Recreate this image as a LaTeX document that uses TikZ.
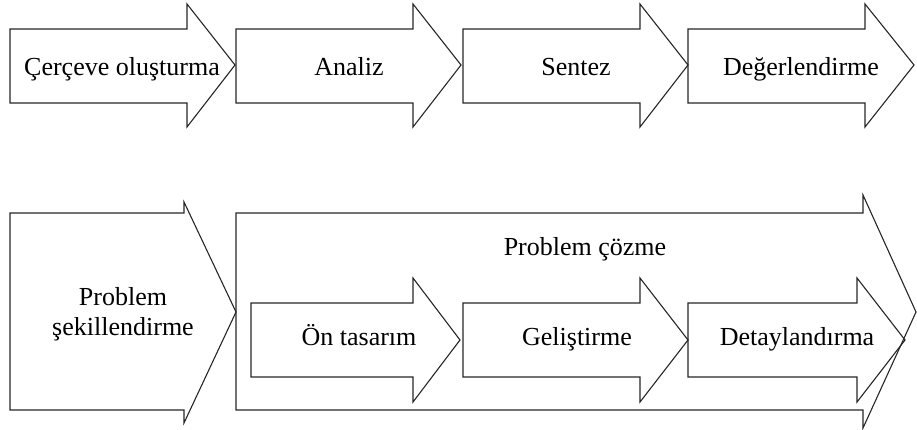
\documentclass[tikz,border=0pt]{standalone}
\usepackage{fontspec}
\setmainfont{Liberation Serif}
\begin{document}
\begin{tikzpicture}[x=1pt,y=-1pt,
  blk/.style={draw=black!85,line width=1.1pt,line join=miter},
  lbl/.style={inner sep=0pt,anchor=base,align=center,font=\fontsize{26}{30}\selectfont,text=black}]
\useasboundingbox (0,0) rectangle (917,429);
% top row
\draw[blk] (10,29)--(187,29)--(187,4)--(235,65)--(187,127)--(187,103)--(10,103)--cycle;
\draw[blk] (236,29)--(413,29)--(413,4)--(461,65)--(413,127)--(413,103)--(236,103)--cycle;
\draw[blk] (463,29)--(640,29)--(640,4)--(688,65)--(640,127)--(640,103)--(463,103)--cycle;
\draw[blk] (688,29)--(865,29)--(865,4)--(914,65)--(865,127)--(865,103)--(688,103)--cycle;
\node[lbl] (t1) at (122,75) {Çerçeve oluşturma};
\node[lbl] (t2) at (349,75) {Analiz};
\node[lbl] (t3) at (576,75) {Sentez};
\node[lbl] (t4) at (801,75) {Değerlendirme};
% bottom row
\draw[blk] (10,213)--(184,213)--(184,202)--(236,312)--(184,423)--(184,410)--(10,410)--cycle;
\draw[blk] (236,213)--(863,213)--(863,195)--(916,312)--(863,428)--(863,410)--(236,410)--cycle;
\draw[blk] (251,303)--(413,303)--(413,278)--(460,340)--(413,402)--(413,377)--(251,377)--cycle;
\draw[blk] (463,303)--(640,303)--(640,278)--(688,340)--(640,402)--(640,377)--(463,377)--cycle;
\draw[blk] (688,303)--(857,303)--(857,278)--(905,340)--(857,402)--(857,377)--(688,377)--cycle;
\node[lbl] (b1) at (123,335) {Problem\\şekillendirme};
\node[lbl] (b2) at (585,255) {Problem çözme};
\node[lbl] (c1) at (359,345) {Ön tasarım};
\node[lbl] (c2) at (577,345) {Geliştirme};
\node[lbl] (c3) at (797,345) {Detaylandırma};
\end{tikzpicture}
\end{document}
